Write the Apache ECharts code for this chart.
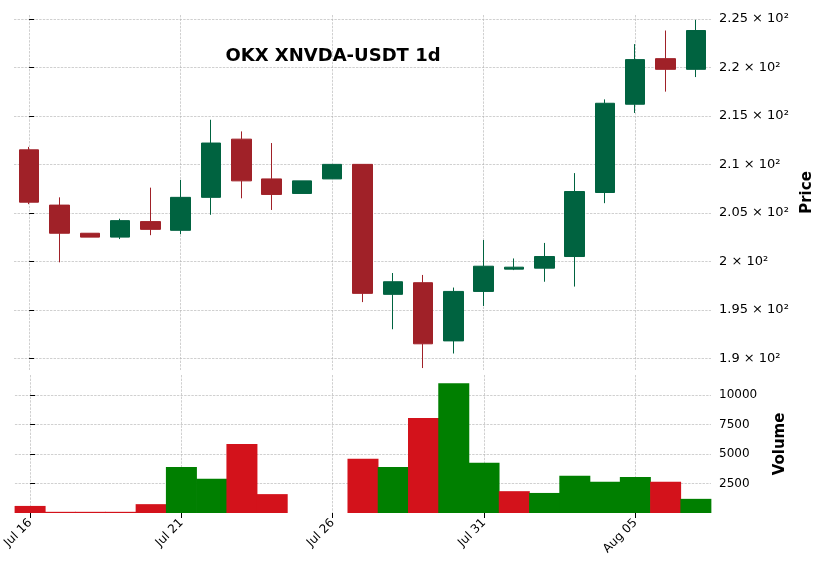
<!DOCTYPE html>
<html><head><meta charset="utf-8">
<script src="https://cdn.jsdelivr.net/npm/echarts@6/dist/echarts.min.js"></script>
<style>body{margin:0}#c{width:823px;height:577px}</style>
</head><body><div id="c"></div>
<script>
var dates = ['Jul 16','Jul 17','Jul 18','Jul 19','Jul 20','Jul 21','Jul 22','Jul 23','Jul 24','Jul 25','Jul 26','Jul 27',
  'Jul 28','Jul 29','Jul 30','Jul 31','Aug 01','Aug 02','Aug 03','Aug 04','Aug 05','Aug 06','Aug 07'];
// open, close, low, high
var ohlc = [
  [211.5,206.1,205.9,211.8],[205.8,202.9,199.9,206.6],[202.9,202.5,202.5,202.9],[202.5,204.2,202.3,204.4],
  [204.1,203.3,202.7,207.6],[203.2,206.6,202.8,208.4],[206.6,212.2,204.8,214.6],[212.6,208.3,206.5,213.4],
  [208.5,206.9,205.3,212.2],[207.0,208.3,207.0,208.3],[208.5,210.0,208.5,210.0],[210.0,196.7,195.8,210.0],
  [196.6,197.9,193.0,198.8],[197.8,191.5,189.0,198.6],[191.8,196.9,190.5,197.3],[196.9,199.5,195.4,202.2],
  [199.2,199.4,199.1,200.3],[199.3,200.5,197.9,201.9],[200.5,207.2,197.4,209.1],[207.1,216.3,206.0,216.7],
  [216.2,220.8,215.3,222.4],[220.9,219.8,217.5,223.8],[219.8,223.8,219.0,224.9]];
var volume = [600,100,100,100,750,3900,2900,5850,1600,0,0,4600,3900,8050,11000,4250,1850,1700,3150,2650,3050,2650,1200];
var volumeUp = [0,0,0,0,0,1,1,0,0,1,1,0,1,0,1,1,0,1,1,1,1,0,1];
var priceTicks = [190,195,200,205,210,215,220,225];
var volumeTicks = [2500,5000,7500,10000];
var dateTicks = [0,5,10,15,20];

var sup = function (v) { return String(Math.round(v) / 100) + ' × 10²'; };
var dash = {show: true, lineStyle: {color: '#b0b0b0', type: 'dashed', width: 0.6}};
var lbl = {fontFamily: 'DejaVu Sans', color: '#000'};
function xAxis(g, show) {
  return {type: 'value', gridIndex: g, min: -0.5, max: 22.5, axisLine: {show: false},
    axisTick: {show: show, customValues: dateTicks, lineStyle: {color: '#000'}},
    axisLabel: Object.assign({show: show, customValues: dateTicks, rotate: 45, fontSize: 12,
      formatter: function (v) { return dates[Math.round(v)]; }}, lbl),
    splitLine: dash};
}
var myChart = echarts.init(document.getElementById('c'));
myChart.setOption({
  animation: false,
  title: {text: 'OKX XNVDA-USDT 1d', left: 328, top: 42, textAlign: 'center',
    textStyle: {fontFamily: 'DejaVu Sans', fontSize: 18, fontWeight: 'bold', color: '#000'}},
  grid: [{left: 14, right: 112, top: 15, height: 355}, {left: 14, right: 112, top: 375, height: 138}],
  xAxis: [xAxis(0, false), xAxis(1, true)],
  yAxis: [
    {type: 'value', gridIndex: 0, position: 'right', min: 188.8, max: 225.4, name: 'Price',
      nameLocation: 'middle', nameGap: 85, nameRotate: 90,
      nameTextStyle: {fontFamily: 'DejaVu Sans', fontSize: 15, fontWeight: 'bold', color: '#000'},
      axisLine: {show: false}, axisTick: {show: true, customValues: priceTicks, lineStyle: {color: '#000'}},
      axisLabel: Object.assign({customValues: priceTicks, formatter: sup, fontSize: 13}, lbl),
      splitLine: dash},
    {type: 'value', gridIndex: 1, position: 'right', min: 0, max: 11700, name: 'Volume',
      nameLocation: 'middle', nameGap: 62, nameRotate: 90,
      nameTextStyle: {fontFamily: 'DejaVu Sans', fontSize: 15, fontWeight: 'bold', color: '#000'},
      axisLine: {show: false}, axisTick: {show: true, customValues: volumeTicks, lineStyle: {color: '#000'}},
      axisLabel: Object.assign({customValues: volumeTicks, fontSize: 12, formatter: function (v) { return String(v); }}, lbl),
      splitLine: dash}
  ],
  series: [
    {type: 'candlestick', xAxisIndex: 0, yAxisIndex: 0, barWidth: 20,
      encode: {x: 0, y: [1, 2, 3, 4]},
      data: ohlc.map(function (d, i) { return [i].concat(d); }),
      itemStyle: {color: '#006340', color0: '#a02128', borderColor: '#006340', borderColor0: '#a02128', borderWidth: 1}},
    {type: 'bar', xAxisIndex: 1, yAxisIndex: 1, barWidth: 31,
      data: volume.map(function (v, i) {
        return {value: [i, v], itemStyle: {color: volumeUp[i] ? '#007f00' : '#d3121b'}};
      })}
  ]
});
</script></body></html>
